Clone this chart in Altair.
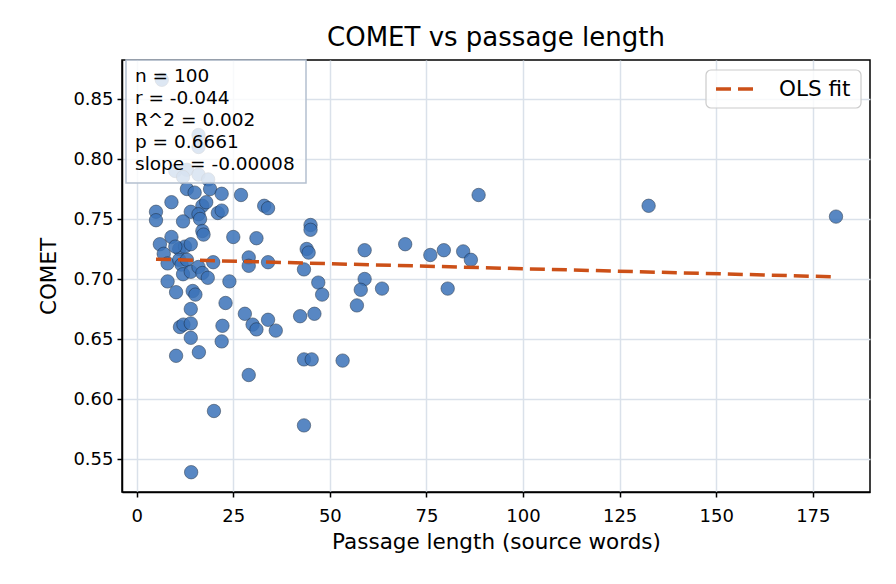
import altair as alt
import pandas as pd

# passage length (source words) and COMET score
lengths = [
    6.5, 16, 16, 10, 13, 16, 12, 18.5,
    13, 15, 19, 22, 27,
    9, 17, 18, 33, 34, 5, 5, 14, 21, 22, 16, 16.4, 12, 45, 45, 17, 17.3,
    9, 25, 31, 6, 11, 12.5, 14, 10, 7, 44, 44.5, 59, 69.5, 76, 79.5, 84.5,
    86.5, 88.5, 132.5, 181, 29, 29, 34, 8, 11, 11.6, 13, 19.8, 43.3, 12, 14,
    16, 17, 18.4, 8, 24, 47, 59, 58, 63.5, 80.5, 48, 10.2, 14.5, 15.2, 23,
    57, 14, 28, 42.3, 46, 30, 31, 34, 36, 11.2, 12.1, 14, 22.2, 14, 22,
    10.2, 16.1, 43.3, 45.3, 53.3, 29, 20, 43.3, 14.1,
]
comet = [
    0.866, 0.820, 0.810, 0.790, 0.791, 0.787, 0.785, 0.783,
    0.775, 0.772, 0.775, 0.771, 0.770,
    0.764, 0.761, 0.764, 0.761, 0.759, 0.756, 0.749, 0.756, 0.755, 0.757,
    0.754, 0.750, 0.748, 0.745, 0.741, 0.740, 0.737,
    0.735, 0.735, 0.734, 0.729, 0.725, 0.727, 0.729, 0.727, 0.721, 0.725,
    0.722, 0.724, 0.729, 0.720, 0.724, 0.723, 0.716, 0.770, 0.761, 0.752,
    0.718, 0.711, 0.714, 0.713, 0.716, 0.712, 0.716, 0.714, 0.708, 0.704,
    0.706, 0.710, 0.705, 0.701, 0.698, 0.698, 0.697, 0.700, 0.691, 0.692,
    0.692, 0.687, 0.689, 0.690, 0.687, 0.680, 0.678, 0.675, 0.671, 0.669,
    0.671, 0.662, 0.658, 0.666, 0.657, 0.660, 0.662, 0.663, 0.661, 0.651,
    0.648, 0.636, 0.639, 0.633, 0.633, 0.632, 0.620, 0.590, 0.578, 0.539,
]

# OLS fit line end points
fit_x = [5, 181]
fit_y = [0.7165, 0.7018]

stats_lines = ["n = 100", "r = -0.044", "R^2 = 0.002", "p = 0.6661", "slope = -0.00008"]
legend_label = "OLS fit"

x_ticks = [0, 25, 50, 75, 100, 125, 150, 175]
y_ticks = [0.55, 0.60, 0.65, 0.70, 0.75, 0.80, 0.85]

points = pd.DataFrame({"length": lengths, "comet": comet})
fit = pd.DataFrame({"length": fit_x, "comet": fit_y})

FONT = "DejaVu Sans"
FIT_COLOR = "#cc5018"

x_enc = alt.X(
    "length:Q",
    title="Passage length (source words)",
    scale=alt.Scale(domain=[-3.8, 189.8], nice=False, zero=False),
    axis=alt.Axis(values=x_ticks, format="d", labelPadding=10, titlePadding=6),
)
y_enc = alt.Y(
    "comet:Q",
    title="COMET",
    scale=alt.Scale(domain=[0.5225, 0.8825], nice=False, zero=False),
    axis=alt.Axis(values=y_ticks, format=".2f", labelPadding=4, titlePadding=12),
)

scatter = alt.Chart(points).mark_circle(
    size=180,
    color="#3b73b9",
    opacity=0.85,
    stroke="#1a2a40",
    strokeWidth=0.6,
).encode(x=x_enc, y=y_enc)

line = alt.Chart(fit).mark_line(
    color=FIT_COLOR, strokeWidth=3.5, strokeDash=[15, 7]
).encode(x="length:Q", y="comet:Q")

one_row = alt.Data(values=[{}])

# stats annotation box, top left
stats_box = alt.Chart(one_row).mark_rect(
    fill="white", fillOpacity=0.8, stroke="#b4c0cf", strokeWidth=1.5
).encode(x=alt.value(4), x2=alt.value(184), y=alt.value(0), y2=alt.value(123))

stats_text = alt.Chart(one_row).mark_text(
    align="left", baseline="top", font=FONT, fontSize=18.5, lineHeight=22, color="black"
).encode(x=alt.value(13), y=alt.value(7), text=alt.value(stats_lines))

# legend, top right
legend_box = alt.Chart(one_row).mark_rect(
    fill="white", fillOpacity=0.8, stroke="#cccccc", strokeWidth=1.2, cornerRadius=5
).encode(x=alt.value(584), x2=alt.value(739), y=alt.value(10), y2=alt.value(48))

legend_line = alt.Chart(one_row).mark_rule(
    color=FIT_COLOR, strokeWidth=3.5, strokeDash=[15, 7]
).encode(x=alt.value(594), x2=alt.value(634), y=alt.value(29))

legend_text = alt.Chart(one_row).mark_text(
    align="left", baseline="middle", font=FONT, fontSize=21.5, color="black"
).encode(x=alt.value(657), y=alt.value(30), text=alt.value(legend_label))

chart = (
    alt.layer(scatter, line, stats_box, stats_text, legend_box, legend_line, legend_text)
    .properties(
        width=748,
        height=432,
        title=alt.TitleParams(
            "COMET vs passage length",
            font=FONT,
            fontSize=26,
            fontWeight="normal",
            color="black",
            offset=8,
        ),
        autosize=alt.AutoSizeParams(type="none"),
        padding={"left": 114, "top": 52, "right": 10, "bottom": 70},
    )
    .configure_view(stroke="black", strokeWidth=1.5)
    .configure_axis(
        labelFont=FONT,
        titleFont=FONT,
        labelFontSize=18,
        titleFontSize=21.5,
        titleFontWeight="normal",
        labelColor="black",
        titleColor="black",
        gridColor="#dae1ea",
        gridWidth=1.5,
        domainColor="black",
        domainWidth=1.5,
        tickColor="black",
        tickWidth=1.5,
        tickSize=5,
    )
)

chart.save("out.html", embed_options={"renderer": "svg", "actions": False})
